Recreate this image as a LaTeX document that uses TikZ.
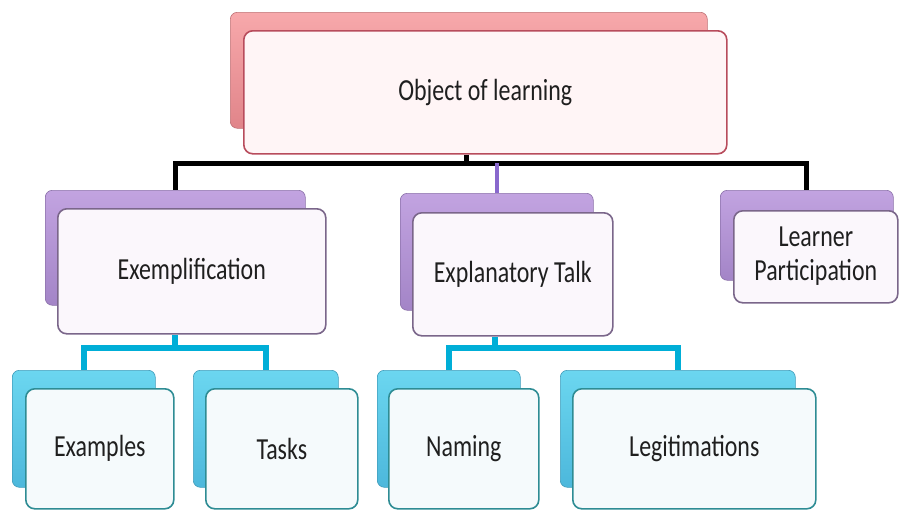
\documentclass[tikz,border=0pt]{standalone}
\usepackage[x11names, svgnames, rgb]{xcolor}
\usepackage{graphicx}
\usepackage{tikz}
\usetikzlibrary{arrows,shapes}
\usepackage{fontspec}
\setmainfont{Carlito}
\newcommand{\talltext}[1]{\scalebox{1}[1.28]{#1}}

\begin{document}
\begin{tikzpicture}[line join=bevel,
  backbox/.style={draw=backcol!85!black, line width=0.6bp, top color=backtop, bottom color=backcol,
    rounded corners=7bp, anchor=north west, inner sep=0pt},
  frontbox/.style={draw=strokecol, line width=1.6bp, fill=fillcol, rounded corners=9bp,
    anchor=north west, inner sep=0pt, align=center, text=black!88,
    font=\fontsize{24}{26}\selectfont},
  blackbus/.style={draw=black, line width=5bp, line join=miter},
  purplebus/.style={draw=MediumPurple3, line width=3.5bp},
  cyanbus/.style={draw=DeepSkyBlue3!80!cyan, line width=5.5bp, line join=miter},
]
  \pgfsetlinewidth{1bp}
  \useasboundingbox (0bp,0bp) rectangle (900bp,-510bp);
%%
  % Node: obj
\begin{scope}
  \definecolor{strokecol}{rgb}{0.72,0.30,0.36};
  \definecolor{fillcol}{rgb}{1.0,0.96,0.965};
  \definecolor{backcol}{rgb}{0.88,0.52,0.54};
  \definecolor{backtop}{rgb}{0.97,0.66,0.67};
  \node[backbox, minimum width=477bp, minimum height=116bp] (objback) at (230bp,-12bp) {};
  \node[frontbox, minimum width=483bp, minimum height=123bp] (obj) at (243bp,-30bp) {\talltext{Object of learning}};
\end{scope}
  % Node: ex
\begin{scope}
  \definecolor{strokecol}{rgb}{0.48,0.40,0.54};
  \definecolor{fillcol}{rgb}{0.985,0.97,0.99};
  \definecolor{backcol}{rgb}{0.64,0.52,0.78};
  \definecolor{backtop}{rgb}{0.76,0.64,0.88};
  \node[backbox, minimum width=260bp, minimum height=115bp] (exback) at (45bp,-190bp) {};
  \node[frontbox, minimum width=268bp, minimum height=125bp] (ex) at (57bp,-208bp) {\talltext{Exemplification}};
  % Node: et
  \node[backbox, minimum width=193bp, minimum height=117bp] (etback) at (400bp,-193bp) {};
  \node[frontbox, minimum width=200bp, minimum height=123bp] (et) at (412bp,-212bp) {\talltext{Explanatory Talk}};
  % Node: lp
  \node[backbox, minimum width=173bp, minimum height=90bp] (lpback) at (720bp,-190bp) {};
  \node[frontbox, minimum width=164bp, minimum height=92bp] (lp) at (733bp,-210bp)
    {\talltext{\begin{tabular}{@{}c@{}}Learner\\Participation\end{tabular}}};
\end{scope}
  % Node: examples, tasks, naming, legit
\begin{scope}
  \definecolor{strokecol}{rgb}{0.18,0.55,0.58};
  \definecolor{fillcol}{rgb}{0.96,0.98,0.99};
  \definecolor{backcol}{rgb}{0.30,0.72,0.86};
  \definecolor{backtop}{rgb}{0.42,0.84,0.94};
  \node[backbox, minimum width=143bp, minimum height=117bp] (examplesback) at (12bp,-370bp) {};
  \node[frontbox, minimum width=148bp, minimum height=120bp] (examples) at (25bp,-388bp) {\talltext{Examples}};
  \node[backbox, minimum width=145bp, minimum height=117bp] (tasksback) at (193bp,-370bp) {};
  \node[frontbox, minimum width=152bp, minimum height=120bp] (tasks) at (205bp,-388bp) {\talltext{Tasks}};
  \node[backbox, minimum width=143bp, minimum height=117bp] (namingback) at (377bp,-370bp) {};
  \node[frontbox, minimum width=150bp, minimum height=120bp] (naming) at (388bp,-388bp) {\talltext{Naming}};
  \node[backbox, minimum width=235bp, minimum height=117bp] (legitback) at (560bp,-370bp) {};
  \node[frontbox, minimum width=243bp, minimum height=120bp] (legit) at (572bp,-388bp) {\talltext{Legitimations}};
\end{scope}
%%
  % Edge: obj -> ex, et, lp
  \coordinate (objjoin) at (466bp,-163bp);
  \draw [blackbus] (obj.south -| objjoin) -- (objjoin);
  \draw [blackbus] (objjoin) -| (exback.north);
  \draw [blackbus] (objjoin) -| (lpback.north);
  \draw [purplebus] (objjoin -| etback.north) -- (etback.north);
  % Edge: ex -> examples, tasks
  \coordinate (exjoin) at (175bp,-348bp);
  \draw [cyanbus] (ex.south -| exjoin) -- (exjoin);
  \draw [cyanbus] (exjoin) -| (examplesback.north);
  \draw [cyanbus] (exjoin) -| (tasksback.north);
  % Edge: et -> naming, legit
  \coordinate (etjoin) at (495bp,-348bp);
  \draw [cyanbus] (et.south -| etjoin) -- (etjoin);
  \draw [cyanbus] (etjoin) -| (namingback.north);
  \draw [cyanbus] (etjoin) -| (legitback.north);
%
\end{tikzpicture}
\end{document}
